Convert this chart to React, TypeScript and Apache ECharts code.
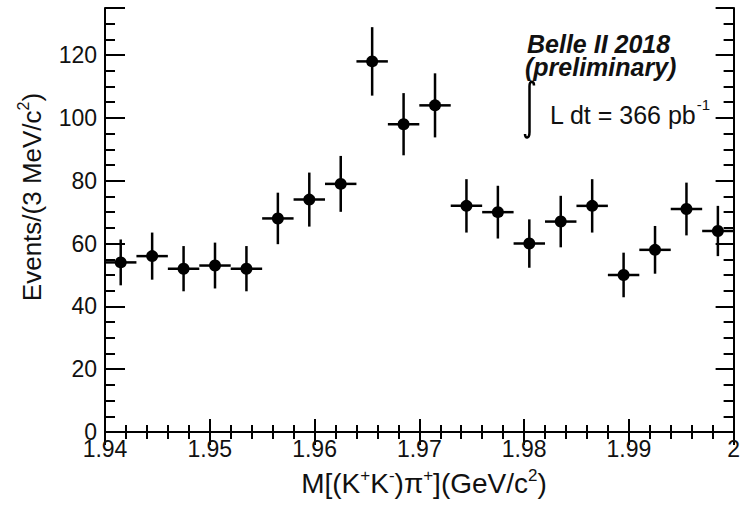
import React, { useEffect, useRef } from "react";
import * as echarts from "echarts";

// ---- data ----
const binCenters = [
  1.9415, 1.9445, 1.9475, 1.9505, 1.9535, 1.9565, 1.9595, 1.9625, 1.9655, 1.9685,
  1.9715, 1.9745, 1.9775, 1.9805, 1.9835, 1.9865, 1.9895, 1.9925, 1.9955, 1.9985,
];
const events = [54, 56, 52, 53, 52, 68, 74, 79, 118, 98, 104, 72, 70, 60, 67, 72, 50, 58, 71, 64];
const errors = [7.3, 7.5, 7.2, 7.3, 7.2, 8.2, 8.6, 8.9, 10.9, 9.9, 10.2, 8.5, 8.4, 7.7, 8.2, 8.5, 7.1, 7.6, 8.4, 8.0];
const binHalfWidth = 0.0015;
const xTickLabels = ["1.94", "1.95", "1.96", "1.97", "1.98", "1.99", "2"];
const yTickLabels = ["0", "20", "40", "60", "80", "100", "120"];

const FONT = "'Liberation Sans', Arial, Helvetica, sans-serif";
const INK = "#111";

export default function App() {
  const ref = useRef<HTMLDivElement>(null);

  useEffect(() => {
    if (!ref.current) return;
    echarts.graphic.registerShape(
      "integralSign",
      echarts.graphic.extendPath("M 9 4.5 C 9 0, 4.5 -1, 4.5 5 L 4.5 51 C 4.5 58, 0 58, 0 53", {})
    );
    const chart = echarts.init(ref.current, null, { renderer: "svg" });

    const data = binCenters.map((x, i) => [x, events[i], errors[i]]);

    const axisLineStyle = { color: "#000", width: 2 };
    const xMajorLabel = (v: number) => {
      const i = Math.round((v - 1.94) / 0.01);
      return Math.abs(v - (1.94 + i * 0.01)) < 1e-6 ? xTickLabels[i] ?? "" : "";
    };
    const yMajorLabel = (v: number) => {
      const i = Math.round(v / 20);
      return Math.abs(v - i * 20) < 1e-6 ? yTickLabels[i] ?? "" : "";
    };

    const xBase = {
      type: "value",
      min: 1.94,
      max: 2.0,
      interval: 0.01,
      splitLine: { show: false },
      minorSplitLine: { show: false },
      axisLine: { show: true, lineStyle: axisLineStyle },
    };
    const yBase = {
      type: "value",
      min: 0,
      max: 135,
      splitLine: { show: false },
      axisLine: { show: true, lineStyle: axisLineStyle },
    };

    const option: any = {
      animation: false,
      backgroundColor: "#fff",
      grid: { left: 105, right: 6, top: 8, bottom: 74, containLabel: false },
      xAxis: [
        {
          ...xBase,
          position: "bottom",
          axisTick: { show: true, inside: true, length: 13, lineStyle: axisLineStyle },
          minorTick: { show: true, splitNumber: 5, length: 7, lineStyle: axisLineStyle },
          axisLabel: {
            show: true,
            formatter: xMajorLabel,
            fontSize: 23,
            fontFamily: FONT,
            color: INK,
            margin: 5,
          },
        },
        {
          ...xBase,
          position: "top",
          axisTick: { show: true, inside: true, length: 13, lineStyle: axisLineStyle },
          minorTick: { show: true, splitNumber: 5, length: 7, lineStyle: axisLineStyle },
          axisLabel: { show: false },
        },
      ],
      yAxis: [
        {
          ...yBase,
          position: "left",
          interval: 20,
          axisTick: { show: true, inside: true, length: 20, lineStyle: axisLineStyle },
          axisLabel: {
            show: true,
            formatter: yMajorLabel,
            fontSize: 23,
            fontFamily: FONT,
            color: INK,
            margin: 8,
          },
        },
        {
          ...yBase,
          position: "left",
          interval: 5,
          axisLine: { show: false },
          axisTick: { show: true, inside: true, length: 10, lineStyle: axisLineStyle },
          axisLabel: { show: false },
        },
        {
          ...yBase,
          position: "right",
          interval: 20,
          axisTick: { show: true, inside: true, length: 18, lineStyle: axisLineStyle },
          axisLabel: { show: false },
        },
        {
          ...yBase,
          position: "right",
          interval: 5,
          axisLine: { show: false },
          axisTick: { show: true, inside: true, length: 10, lineStyle: axisLineStyle },
          axisLabel: { show: false },
        },
      ],
      series: [
        {
          type: "custom",
          xAxisIndex: 0,
          yAxisIndex: 0,
          data,
          encode: { x: 0, y: 1 },
          clip: false,
          renderItem: (params: any, api: any) => {
            const x = api.value(0);
            const y = api.value(1);
            const e = api.value(2);
            const c = api.coord([x, y]);
            const l = api.coord([x - binHalfWidth, y]);
            const r = api.coord([x + binHalfWidth, y]);
            const t = api.coord([x, y + e]);
            const b = api.coord([x, y - e]);
            const ls = { stroke: "#000", lineWidth: 2.5 };
            return {
              type: "group",
              children: [
                { type: "line", shape: { x1: l[0], y1: l[1], x2: r[0], y2: r[1] }, style: ls },
                { type: "line", shape: { x1: t[0], y1: t[1], x2: b[0], y2: b[1] }, style: ls },
                { type: "circle", shape: { cx: c[0], cy: c[1], r: 6 }, style: { fill: "#000" } },
              ],
            };
          },
        },
      ],
      graphic: [
        {
          type: "text",
          x: 30,
          y: 197,
          rotation: Math.PI / 2,
          style: {
            text: "{n|Events/(3 MeV/c}{s|2}{n|)}",
            align: "center",
            verticalAlign: "middle",
            rich: {
              n: { fontSize: 26, fontFamily: FONT, fill: INK, lineHeight: 30, verticalAlign: "bottom" },
              s: { fontSize: 16, fontFamily: FONT, fill: INK, lineHeight: 16, verticalAlign: "top" },
            },
          },
        },
        {
          type: "text",
          x: 424,
          y: 482,
          style: {
            text: "{n|M[(K}{s|+}{n|K}{s|-}{n|)π}{s|+}{n|](GeV/c}{s|2}{n|)}",
            align: "center",
            verticalAlign: "middle",
            rich: {
              n: { fontSize: 28, fontFamily: FONT, fill: INK, lineHeight: 30, verticalAlign: "bottom" },
              s: { fontSize: 17, fontFamily: FONT, fill: INK, lineHeight: 16, verticalAlign: "top" },
            },
          },
        },
        {
          type: "text",
          x: 527,
          y: 44,
          style: {
            text: "Belle II 2018",
            fontSize: 25,
            lineHeight: 22,
            fontStyle: "italic",
            fontWeight: "bold",
            fontFamily: FONT,
            fill: INK,
            align: "left",
            verticalAlign: "middle",
          },
        },
        {
          type: "text",
          x: 525,
          y: 67,
          style: {
            text: "(preliminary)",
            fontSize: 25,
            lineHeight: 22,
            fontStyle: "italic",
            fontWeight: "bold",
            fontFamily: FONT,
            fill: INK,
            align: "left",
            verticalAlign: "middle",
          },
        },
        {
          type: "integralSign",
          x: 525,
          y: 81,
          style: { fill: "none", stroke: "#000", lineWidth: 2.5 },
        },
        {
          type: "text",
          x: 550,
          y: 112,
          style: {
            text: "{n|L dt = 366 pb}{s|-1}",
            align: "left",
            verticalAlign: "middle",
            rich: {
              n: { fontSize: 25, fontFamily: FONT, fill: INK, lineHeight: 30, verticalAlign: "bottom" },
              s: { fontSize: 15, fontFamily: FONT, fill: INK, lineHeight: 14, verticalAlign: "top" },
            },
          },
        },
      ],
    };

    chart.setOption(option);
    return () => {
      chart.dispose();
    };
  }, []);

  return (
    <div
      ref={ref}
      style={{ position: "absolute", left: 0, top: 0, width: 743, height: 506, background: "#fff" }}
    />
  );
}
